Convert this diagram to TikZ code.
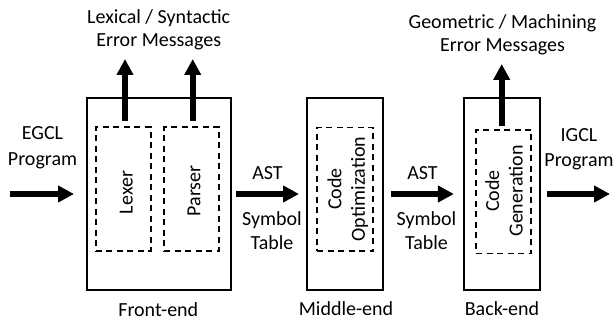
\documentclass[tikz,border=0pt]{standalone}
\usepackage{fontspec}
\setmainfont{Carlito}
\usetikzlibrary{arrows.meta}
\begin{document}
\begin{tikzpicture}[x=1pt,y=1pt,
  every node/.style={font=\fontsize{20}{23.5}\selectfont, inner sep=0pt, outer sep=0pt},
  stage/.style={draw, line width=2pt, minimum width=#1, minimum height=192pt},
  unit/.style={draw, line width=1.8pt, dash pattern=on 6pt off 4.5pt, minimum width=#1, minimum height=124pt},
  flow/.style={line width=6pt, -{Triangle[width=16pt,length=16pt]}},
  lbl/.style={align=center, anchor=base},
  vlbl/.style={align=center, anchor=base, rotate=90},
]
\useasboundingbox (0,0) rectangle (616,322);

% stages
\node[stage=144pt] (front) at (158.5,128) {};
\node[stage=76pt] (middle) at (344.5,128) {};
\node[stage=76pt] (back) at (501.6,128) {};

% inner units
\node[unit=54.7pt] (lexer) at (123.3,133) {};
\node[unit=54.7pt] (parser) at (191.7,133) {};
\node[unit=56pt, minimum height=123.5pt] (opt) at (345,132.7) {};
\node[unit=55pt, minimum height=123.5pt] (gen) at (503.5,130.3) {};

% unit texts (base = last line's baseline)
\node[vlbl] (lexertxt) at (132.5,129.5) {Lexer};
\node[vlbl] (parsertxt) at (200.3,131) {Parser};
\node[vlbl] (opttxt) at (364.8,133) {Code\\Optimization};
\node[vlbl] (gentxt) at (522.5,131) {Code\\Generation};

% labels (base = last line's baseline)
\node[lbl] (errA) at (158.7,275) {Lexical / Syntactic\\Error Messages};
\node[lbl] (errB) at (502.5,270.3) {Geometric / Machining\\Error Messages};
\node[lbl] (egcl) at (42.5,157) {EGCL\\[2pt]Program};
\node[lbl] (igcl) at (579,155.3) {IGCL\\[1.5pt]Program};
\node[lbl] (astA) at (267.5,142.7) {AST};
\node[lbl] (symA) at (272,72.7) {Symbol\\Table};
\node[lbl] (astB) at (422.5,142.7) {AST};
\node[lbl] (symB) at (426.5,72.7) {Symbol\\Table};
\node[lbl] (fe) at (158.3,6) {Front-end};
\node[lbl] (me) at (346,7) {Middle-end};
\node[lbl] (be) at (502,7) {Back-end};

% free ends
\coordinate (src) at (10,128);
\coordinate (dst) at (610,128);
\coordinate (lexout) at (125,263);
\coordinate (parout) at (192.7,263);
\coordinate (genout) at (501.7,258);

% flows
\draw[flow, shorten >=12.5pt] (src) -- (front.west);
\draw[flow, shorten <=5.5pt, shorten >=7.5pt] (front.east) -- (middle.west);
\draw[flow, shorten <=8.5pt, shorten >=9.7pt] (middle.east) -- (back.west);
\draw[flow, shorten <=7.5pt] (back.east) -- (dst);
\draw[flow] (lexout |- lexer.north) ++(0,6) -- (lexout);
\draw[flow] (parout |- parser.north) ++(0,6) -- (parout);
\draw[flow] (genout |- gen.north) ++(0,4) -- (genout);
\end{tikzpicture}
\end{document}
